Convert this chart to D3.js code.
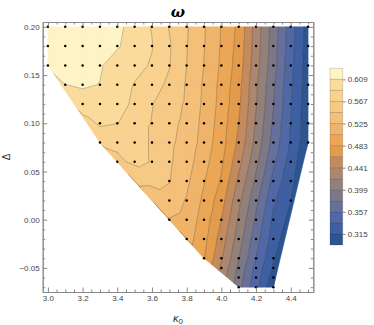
<!DOCTYPE html>
<html>
<head>
<meta charset="utf-8">
<script src="https://cdn.jsdelivr.net/npm/d3@7"></script>
<style>
  body { margin: 0; background: #fff; }
  svg  { display: block; font-family: "Liberation Sans", Arial, sans-serif; }
  .axis .domain    { stroke: #8a8a8a; }
  .axis .tick line { stroke: #8a8a8a; }
  .axis .tick text { fill: #444; font-size: 8px; }
</style>
</head>
<body>
<svg id="chart" width="374" height="325"></svg>
<script>
// ─── Daten ────────────────────────────────────────────────────────────────────

const kappa = [3.0, 3.1, 3.2, 3.3, 3.4, 3.5, 3.6, 3.7, 3.8, 3.9, 4.0, 4.1, 4.2, 4.3, 4.4, 4.5];
const delta = [0.20, 0.18, 0.16, 0.14, 0.12, 0.10, 0.08, 0.06, 0.04, 0.02, 0.00, -0.02, -0.04, -0.05, -0.06, -0.07];

// omega[row][col], null = kein Messpunkt
const omega = [
  [0.628, 0.626, 0.623, 0.619, 0.613, 0.602, 0.587, 0.566, 0.548, 0.527, 0.503, 0.478, 0.432, 0.390, 0.346, 0.305],
  [0.625, 0.624, 0.621, 0.616, 0.611, 0.600, 0.589, 0.569, 0.547, 0.526, 0.502, 0.476, 0.430, 0.388, 0.344, 0.304],
  [0.614, 0.618, 0.617, 0.611, 0.600, 0.594, 0.586, 0.568, 0.546, 0.5245, 0.5005, 0.473, 0.428, 0.386, 0.342, 0.303],
  [null, 0.6088, 0.612, 0.6085, 0.598, 0.587, 0.575, 0.563, 0.5438, 0.5222, 0.498, 0.4688, 0.4236, 0.3812, 0.340, 0.302],
  [null, null, 0.598, 0.597, 0.594, 0.585, 0.568, 0.556, 0.5428, 0.521, 0.4968, 0.4665, 0.4215, 0.379, 0.338, 0.301],
  [null, null, null, 0.592, 0.5885, 0.578, 0.566, 0.552, 0.5407, 0.5186, 0.4943, 0.4619, 0.4173, 0.3746, 0.3355, 0.300],
  [null, null, null, 0.569, 0.572, 0.571, 0.566, 0.550, 0.5386, 0.5162, 0.4918, 0.4573, 0.4131, 0.3702, 0.333, 0.299],
  [null, null, null, null, 0.562, 0.572, 0.566, 0.549, 0.5343, 0.5114, 0.4868, 0.4481, 0.4047, 0.3614, 0.327, null],
  [null, null, null, null, null, null, null, 0.547, 0.5291, 0.5054, 0.4805, 0.4366, 0.3942, 0.3504, 0.321, null],
  [null, null, null, null, null, null, null, 0.536, 0.5234, 0.4993, 0.4711, 0.4257, 0.3834, 0.3399, 0.316, null],
  [null, null, null, null, null, null, null, 0.524, 0.5186, 0.4943, 0.4619, 0.4173, 0.3746, 0.3317, null, null],
  [null, null, null, null, null, null, null, null, 0.5138, 0.4893, 0.4527, 0.4089, 0.3658, 0.3256, null, null],
  [null, null, null, null, null, null, null, null, null, 0.4843, 0.4435, 0.4005, 0.3568, 0.318, null, null],
  [null, null, null, null, null, null, null, null, null, null, 0.4366, 0.3942, 0.3504, 0.312, null, null],
  [null, null, null, null, null, null, null, null, null, null, null, 0.390, 0.346, 0.305, null, null],
  [null, null, null, null, null, null, null, null, null, null, null, 0.3856, 0.3419, 0.297, null, null],
];

// Konturniveaus und Bandfarben (von unten nach oben)
const levels = [0.315, 0.336, 0.357, 0.378, 0.399, 0.420, 0.441, 0.462, 0.483, 0.504, 0.525, 0.546, 0.567, 0.588, 0.609];
const bandColors = [
  '#2d5592', '#3e60a2', '#5068a6', '#66709a', '#7d7888', '#92807a', '#ab8670', '#c38b5e',
  '#e39b4c', '#eba756', '#efb46a', '#f3bf79', '#f6c985', '#f9d290', '#fbdb9c', '#fef3c5',
];

const legendRange = [0.294, 0.630];
const legendTicks = [0.315, 0.357, 0.399, 0.441, 0.483, 0.525, 0.567, 0.609];
const xTicks = [3.0, 3.2, 3.4, 3.6, 3.8, 4.0, 4.2, 4.4];
const yTicks = [-0.05, 0.00, 0.05, 0.10, 0.15, 0.20];

// ─── Skalen ───────────────────────────────────────────────────────────────────

const svg = d3.select('#chart');

const x = d3.scaleLinear().domain([2.97, 4.53]).range([42.7, 313.3]);
const y = d3.scaleLinear().domain([-0.075, 0.205]).range([292, 22]);
const color = d3.scaleThreshold().domain(levels).range(bandColors);

// ─── Punkte & Triangulierung ─────────────────────────────────────────────────

const points = [];
delta.forEach((d, i) => kappa.forEach((k, j) => {
  const v = omega[i][j];
  if (v != null) points.push({ k, d, v, x: x(k), y: y(d) });
}));

const delaunay = d3.Delaunay.from(points, p => p.x, p => p.y);
const tri = delaunay.triangles;

// Polygon an einem Niveau abschneiden (oberhalb oder unterhalb behalten)
function clip(poly, lv, above) {
  const out = [];
  for (let i = 0; i < poly.length; i++) {
    const a = poly[i], b = poly[(i + 1) % poly.length];
    const ina = above ? a.v >= lv : a.v <= lv;
    const inb = above ? b.v >= lv : b.v <= lv;
    if (ina) out.push(a);
    if (ina !== inb) {
      const t = (lv - a.v) / (b.v - a.v);
      out.push({ x: a.x + t * (b.x - a.x), y: a.y + t * (b.y - a.y), v: lv });
    }
  }
  return out;
}

const edges = [legendRange[0] - 1, ...levels, legendRange[1] + 1];
const bandPaths = bandColors.map(() => d3.path());
const linePaths = levels.map(() => d3.path());

for (let t = 0; t < tri.length; t += 3) {
  const poly = [points[tri[t]], points[tri[t + 1]], points[tri[t + 2]]];

  // gefüllte Bänder
  for (let b = 0; b < bandColors.length; b++) {
    const p = clip(clip(poly, edges[b], true), edges[b + 1], false);
    if (p.length < 3) continue;
    bandPaths[b].moveTo(p[0].x, p[0].y);
    p.slice(1).forEach(q => bandPaths[b].lineTo(q.x, q.y));
    bandPaths[b].closePath();
  }

  // Konturlinien
  levels.forEach((lv, li) => {
    const cross = [];
    for (let e = 0; e < 3; e++) {
      const a = poly[e], b = poly[(e + 1) % 3];
      if ((a.v >= lv) !== (b.v >= lv)) {
        const s = (lv - a.v) / (b.v - a.v);
        cross.push([a.x + s * (b.x - a.x), a.y + s * (b.y - a.y)]);
      }
    }
    if (cross.length === 2) {
      linePaths[li].moveTo(cross[0][0], cross[0][1]);
      linePaths[li].lineTo(cross[1][0], cross[1][1]);
    }
  });
}

const mid = b => (Math.max(edges[b], legendRange[0]) + Math.min(edges[b + 1], legendRange[1])) / 2;

svg.append('g').selectAll('path')
  .data(bandPaths)
  .enter()
  .append('path')
  .attr('d',            d => d.toString())
  .attr('fill',         (_d, i) => color(mid(i)))
  .attr('stroke',       (_d, i) => color(mid(i)))
  .attr('stroke-width', 0.5);

svg.append('g').selectAll('path')
  .data(linePaths)
  .enter()
  .append('path')
  .attr('d',              d => d.toString())
  .attr('fill',           'none')
  .attr('stroke',         '#000')
  .attr('stroke-opacity', 0.3)
  .attr('stroke-width',   0.75);

svg.append('g').selectAll('circle')
  .data(points)
  .enter()
  .append('circle')
  .attr('cx',   d => d.x)
  .attr('cy',   d => d.y)
  .attr('r',    1.25)
  .attr('fill', '#000');

// ─── Rahmen & Achsen ──────────────────────────────────────────────────────────

const [x0, x1] = x.range();
const [y0, y1] = y.range();

const minorX = x.ticks(30).filter(v => !xTicks.some(t => Math.abs(t - v) < 1e-9));
const minorY = y.ticks(28).filter(v => !yTicks.some(t => Math.abs(t - v) < 1e-9));

function addAxis(axisFn, scale, pos, major, minor, labels, fmt) {
  const g = svg.append('g').attr('class', 'axis').attr('transform', pos);
  g.call(axisFn(scale).tickValues(minor).tickSize(-2.5).tickSizeOuter(0).tickFormat(''));
  const g2 = svg.append('g').attr('class', 'axis').attr('transform', pos);
  g2.call(axisFn(scale).tickValues(major).tickSize(-4.5).tickSizeOuter(0).tickPadding(3)
    .tickFormat(labels ? fmt : ''));
}

addAxis(d3.axisBottom, x, `translate(0,${y0})`, xTicks, minorX, true,  d3.format('.1f'));
addAxis(d3.axisTop,    x, `translate(0,${y1})`, xTicks, minorX, false);
addAxis(d3.axisLeft,   y, `translate(${x0},0)`, yTicks, minorY, true,  d3.format('.2f'));
addAxis(d3.axisRight,  y, `translate(${x1},0)`, yTicks, minorY, false);

// Titel und Achsenbeschriftungen
svg.append('text')
  .attr('x', (x0 + x1) / 2).attr('y', 17)
  .attr('text-anchor', 'middle')
  .attr('font-family', '"DejaVu Serif", serif')
  .attr('font-style', 'italic').attr('font-weight', 'bold')
  .attr('font-size', 15)
  .text('ω');

const xl = svg.append('text')
  .attr('x', (x0 + x1) / 2).attr('y', 322)
  .attr('text-anchor', 'middle')
  .attr('font-size', 11).attr('fill', '#333');
xl.append('tspan').attr('font-style', 'italic').text('κ');
xl.append('tspan').attr('font-size', 8).attr('dy', 2).text('0');

svg.append('text')
  .attr('transform', `translate(10,${(y0 + y1) / 2}) rotate(-90)`)
  .attr('text-anchor', 'middle')
  .attr('font-size', 10).attr('fill', '#333')
  .text('Δ');

// ─── Legende ──────────────────────────────────────────────────────────────────

const legY = d3.scaleLinear().domain(legendRange).range([245, 68.3]);
const legEdges = [legendRange[0], ...levels, legendRange[1]];
const legend = svg.append('g');

legend.selectAll('rect')
  .data(d3.pairs(legEdges))
  .enter()
  .append('rect')
  .attr('x',      330)
  .attr('width',  12.7)
  .attr('y',      d => legY(d[1]))
  .attr('height', d => legY(d[0]) - legY(d[1]))
  .attr('fill',   d => color((d[0] + d[1]) / 2));

legend.selectAll('line')
  .data(levels)
  .enter()
  .append('line')
  .attr('x1', 330).attr('x2', 342.7)
  .attr('y1', d => legY(d)).attr('y2', d => legY(d))
  .attr('stroke', '#000').attr('stroke-opacity', 0.3).attr('stroke-width', 0.75);

legend.append('rect')
  .attr('x', 330).attr('y', legY(legendRange[1]))
  .attr('width', 12.7).attr('height', legY(legendRange[0]) - legY(legendRange[1]))
  .attr('fill', 'none').attr('stroke', '#000').attr('stroke-opacity', 0.15);

svg.append('g')
  .attr('class', 'axis')
  .attr('transform', 'translate(342.7,0)')
  .call(d3.axisRight(legY).tickValues(legendTicks).tickSize(3).tickPadding(2)
    .tickFormat(d3.format('.3f')))
  .call(g => g.select('.domain').remove());
</script>
</body>
</html>
